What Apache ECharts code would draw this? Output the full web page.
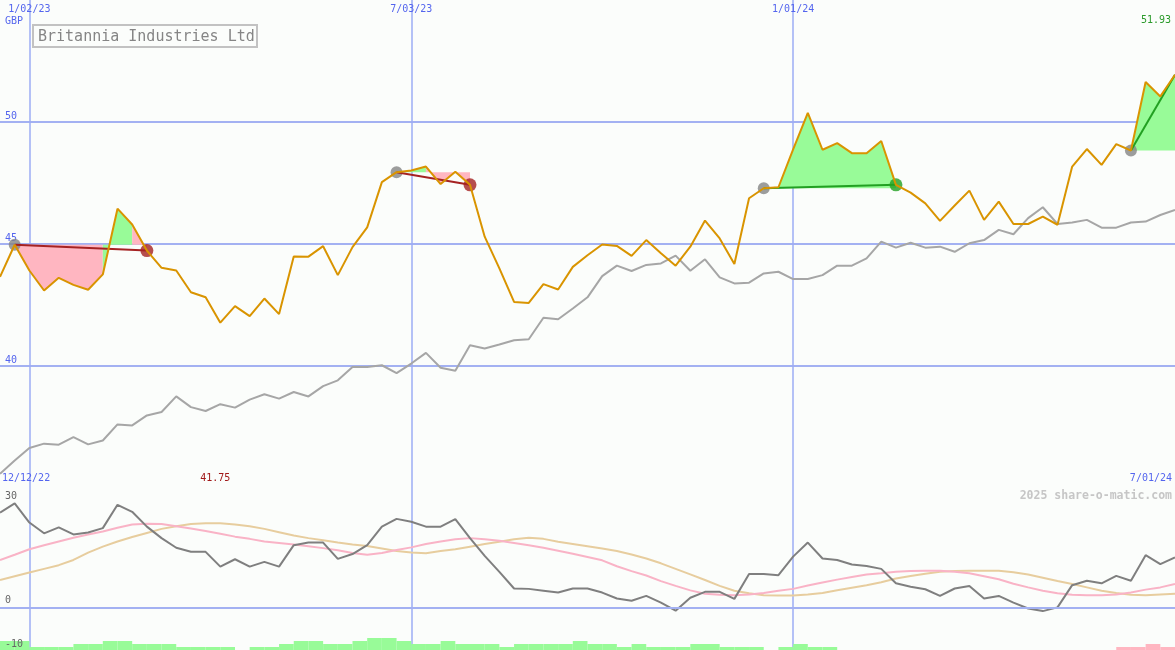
<!DOCTYPE html>
<html><head><meta charset="utf-8">
<script src="https://cdn.jsdelivr.net/npm/echarts@6/dist/echarts.min.js"></script>
<style>html,body{margin:0;padding:0;background:#fbfdfb;}#c{width:1175px;height:650px;}</style>
</head><body><div id="c"></div>
<script>
// ---- data ----
const categories = ['12/19/22','12/26/22','1/02/23','1/09/23','1/16/23','1/23/23','1/30/23','2/06/23','2/13/23','2/20/23',
'2/27/23','3/06/23','3/13/23','3/20/23','3/27/23','4/03/23','4/10/23','4/17/23','4/24/23','5/01/23',
'5/08/23','5/15/23','5/22/23','5/29/23','6/05/23','6/12/23','6/19/23','6/26/23','7/03/23','7/10/23',
'7/17/23','7/24/23','7/31/23','8/07/23','8/14/23','8/21/23','8/28/23','9/04/23','9/11/23','9/18/23',
'9/25/23','10/02/23','10/09/23','10/16/23','10/23/23','10/30/23','11/06/23','11/13/23','11/20/23','11/27/23',
'12/04/23','12/11/23','12/18/23','12/25/23','1/01/24','1/08/24','1/15/24','1/22/24','1/29/24','2/05/24',
'2/12/24','2/19/24','2/26/24','3/04/24','3/11/24','3/18/24','3/25/24','4/01/24','4/08/24','4/15/24',
'4/22/24','4/29/24','5/06/24','5/13/24','5/20/24','5/27/24','6/03/24','6/10/24','6/17/24','6/24/24','7/01/24'];
const price = [43.63,44.95,43.89,43.07,43.59,43.30,43.10,43.73,46.43,45.78,
44.71,44.00,43.89,43.00,42.79,41.75,42.43,42.02,42.74,42.10,
44.47,44.46,44.89,43.70,44.85,45.66,47.52,47.93,48.00,48.16,
47.44,47.95,47.41,45.28,43.98,42.60,42.56,43.33,43.11,44.04,
44.52,44.96,44.90,44.49,45.14,44.60,44.09,44.87,45.94,45.21,
44.16,46.86,47.27,47.31,48.87,50.36,48.85,49.12,48.71,48.71,
49.21,47.41,47.09,46.65,45.93,46.56,47.17,45.97,46.72,45.80,
45.80,46.10,45.77,48.16,48.88,48.23,49.08,48.82,51.63,51.04,51.93];
const compare = [35.54,36.09,36.60,36.78,36.74,37.05,36.75,36.91,37.57,37.53,
37.94,38.08,38.72,38.28,38.12,38.40,38.26,38.59,38.81,38.63,
38.90,38.72,39.14,39.38,39.93,39.93,40.00,39.68,40.07,40.51,
39.90,39.77,40.82,40.69,40.85,41.03,41.07,41.95,41.89,42.33,
42.79,43.66,44.09,43.87,44.12,44.18,44.50,43.88,44.35,43.61,
43.36,43.39,43.77,43.84,43.54,43.54,43.70,44.09,44.09,44.39,
45.08,44.83,45.03,44.83,44.87,44.66,45.01,45.14,45.56,45.38,
46.04,46.49,45.80,45.86,45.97,45.65,45.65,45.86,45.90,46.17,46.38];
const oscMain = [25.7,28.2,23.0,20.1,21.7,19.8,20.3,21.5,27.8,25.9,
21.9,18.8,16.2,15.1,15.1,11.1,13.1,11.1,12.4,11.1,
16.9,17.6,17.6,13.2,14.5,16.9,21.9,24.0,23.2,21.9,
21.9,23.9,18.8,14.0,9.7,5.2,5.1,4.6,4.1,5.2,
5.2,4.1,2.5,1.9,3.2,1.4,-0.8,2.7,4.3,4.3,
2.4,9.1,9.1,8.8,13.8,17.6,13.3,12.9,11.7,11.3,
10.5,6.6,5.7,5.0,3.2,5.2,5.9,2.5,3.2,1.4,
-0.2,-0.9,0.1,6.1,7.3,6.6,8.6,7.3,14.2,11.8,13.6];
const oscPink = [12.9,14.3,15.8,16.9,17.9,18.9,19.8,20.6,21.6,22.5,
22.7,22.6,22.0,21.4,20.7,20.0,19.2,18.6,17.9,17.5,
17.1,16.6,16.1,15.5,14.8,14.3,14.8,15.6,16.3,17.2,
17.9,18.5,18.8,18.5,18.1,17.5,16.9,16.2,15.4,14.6,
13.7,12.8,11.2,9.9,8.7,7.2,5.9,4.7,3.8,3.5,
3.4,3.6,4.0,4.6,5.1,6.0,6.8,7.6,8.3,9.0,
9.3,9.7,9.9,10.0,10.0,9.7,9.3,8.5,7.7,6.5,
5.5,4.6,3.9,3.5,3.4,3.4,3.6,4.1,4.9,5.5,6.4];
const oscTan = [7.5,8.5,9.5,10.5,11.5,12.9,14.9,16.5,17.9,19.1,
20.2,21.3,22.0,22.6,22.8,22.8,22.5,22.0,21.3,20.4,
19.5,18.8,18.2,17.6,17.1,16.7,16.0,15.3,14.9,14.7,
15.3,15.8,16.5,17.2,17.8,18.5,18.9,18.6,17.8,17.2,
16.6,16.0,15.3,14.4,13.3,12.0,10.5,9.0,7.5,5.9,
4.6,3.9,3.4,3.3,3.3,3.6,4.0,4.7,5.4,6.1,
6.9,7.9,8.6,9.2,9.7,9.9,10.0,10.0,10.0,9.6,
9.0,8.1,7.2,6.4,5.5,4.6,4.0,3.5,3.4,3.6,3.8];
const histogram = [3,3,1,1,1,2,2,3,3,2,
2,2,1,1,1,1,0,1,1,2,
3,3,2,2,3,4,4,3,2,2,
3,2,2,2,1,2,2,2,2,3,
2,2,1,2,1,1,1,2,2,1,
1,1,0,1,2,1,1,0,0,0,
0,0,0,0,0,0,0,0,0,0,
0,0,0,0,0,0,-1,-1,-2,-1];
const gridDates = ['1/02/23','7/03/23','1/01/24'];
const priceTickHide = [35, 55];
const oscTicks = [30, 0, -10];
const tradeEntry = [1, 27, 52, 77];
const tradeExit = [10, 32, 61, 80];
const tradeOpen = [false, false, false, true];
const tradeFill = ['PPPPPPGGP', 'GGPPP', 'GGGGGGGGG', 'GGG'];
const titleText = 'Britannia Industries Ltd';
const currency = 'GBP';
const startLabel = '12/12/22';
const endLabel = '7/01/24';
const watermark = '2025 share-o-matic.com';

// ---- style ----
const MONO = '"DejaVu Sans Mono", monospace';
const BG = '#fbfdfb';
const GRID = '#a3b1f2';
const BLUE = '#5465ee';
const ORANGE = '#d99400';
const GREEN_FILL = '#98fb98';
const PINK_FILL = '#ffb6c1';
const RED = '#a52222';
const GREEN = '#22a022';

const dateSet = new Set(gridDates);
const isGridDate = (idx, val) => dateSet.has(val);

// fills: contiguous runs of same colour -> one polygon each
const fillData = [];
tradeEntry.forEach((e, t) => {
  const base = price[e];
  const s = tradeFill[t];
  let k = 0;
  while (k < s.length) {
    let j = k;
    while (j + 1 < s.length && s[j + 1] === s[k]) j++;
    fillData.push([e + k, base, s[k] === 'G' ? 1 : 0, e + j + 1]);
    k = j + 1;
  }
});

const series = [];
series.push({
  type: 'custom', xAxisIndex: 0, yAxisIndex: 0, z: 1, silent: true,
  encode: { x: 0, y: 1 },
  data: fillData,
  renderItem: function (params, api) {
    const a = api.value(0), base = api.value(1), g = api.value(2), b = api.value(3);
    const pts = [api.coord([a, base])];
    for (let i = a; i <= b; i++) pts.push(api.coord([i, price[i]]));
    pts.push(api.coord([b, base]));
    return { type: 'polygon', shape: { points: pts }, style: { fill: g ? GREEN_FILL : PINK_FILL } };
  }
});
series.push({
  type: 'line', xAxisIndex: 0, yAxisIndex: 0, data: compare, symbol: 'none', z: 2,
  lineStyle: { color: '#a6a6a6', width: 2 }, silent: true
});
const entryPts = [], exitRed = [], exitGreen = [];
tradeEntry.forEach((e, t) => {
  const x = tradeExit[t];
  const win = price[x] >= price[e];
  series.push({
    type: 'line', xAxisIndex: 0, yAxisIndex: 0, symbol: 'none', z: 4, silent: true,
    data: [[e, price[e]], [x, price[x]]],
    lineStyle: { color: win ? GREEN : RED, width: 2 }
  });
  entryPts.push([e, price[e]]);
  if (!tradeOpen[t]) (win ? exitGreen : exitRed).push([x, price[x]]);
});
series.push({ type: 'scatter', xAxisIndex: 0, yAxisIndex: 0, data: entryPts, symbolSize: 12, z: 3, silent: true, itemStyle: { color: '#858585' } });
series.push({ type: 'scatter', xAxisIndex: 0, yAxisIndex: 0, data: exitRed, symbolSize: 13, z: 3, silent: true, itemStyle: { color: RED } });
series.push({ type: 'scatter', xAxisIndex: 0, yAxisIndex: 0, data: exitGreen, symbolSize: 13, z: 3, silent: true, itemStyle: { color: GREEN } });
series.push({
  type: 'line', xAxisIndex: 0, yAxisIndex: 0, data: price, symbol: 'none', z: 5,
  lineStyle: { color: ORANGE, width: 2 }, silent: true
});
// histogram
series.push({
  type: 'bar', xAxisIndex: 2, yAxisIndex: 2, barWidth: '100%', barGap: 0, silent: true, z: 1,
  data: histogram.map(v => ({ value: Math.abs(v), itemStyle: { color: v >= 0 ? GREEN_FILL : PINK_FILL } }))
});
// oscillators
series.push({ type: 'line', xAxisIndex: 1, yAxisIndex: 1, data: oscTan, symbol: 'none', z: 2, silent: true, lineStyle: { color: '#e7cd9e', width: 2 } });
series.push({ type: 'line', xAxisIndex: 1, yAxisIndex: 1, data: oscPink, symbol: 'none', z: 3, silent: true, lineStyle: { color: '#f9b3c6', width: 2 } });
series.push({
  type: 'line', xAxisIndex: 1, yAxisIndex: 1, data: oscMain, symbol: 'none', z: 4, silent: true,
  lineStyle: { color: '#7f7f7f', width: 2 },
  markLine: {
    silent: true, symbol: ['none', 'none'], animation: false,
    data: oscTicks.map(v => ({
      yAxis: v,
      lineStyle: { color: v === 0 ? GRID : 'rgba(0,0,0,0)', width: 2, type: 'solid' },
      label: {
        show: true, formatter: String(v), position: v === 0 ? 'insideStartTop' : 'insideStart',
        distance: v === 0 ? [5, 2] : [5, 0], color: '#666666', fontFamily: MONO, fontSize: 10
      }
    }))
  }
});

const chart = echarts.init(document.getElementById('c'), null, { renderer: 'canvas' });
chart.setOption({
  backgroundColor: BG,
  animation: false,
  grid: [
    { left: 0, right: 0, top: 0, height: 487 },
    { left: 0, right: 0, top: 487, height: 163 },
    { left: 0, right: 0, top: 620, height: 30 }
  ],
  xAxis: [
    {
      gridIndex: 0, type: 'category', data: categories, boundaryGap: false, position: 'top',
      axisLine: { show: false }, axisTick: { show: false },
      axisLabel: { inside: true, interval: isGridDate, color: BLUE, fontFamily: MONO, fontSize: 10, margin: 4 },
      splitLine: { show: true, interval: isGridDate, lineStyle: { color: '#9cacf4', width: 1.5 } }
    },
    {
      gridIndex: 1, type: 'category', data: categories, boundaryGap: false, position: 'top',
      axisLine: { show: true, lineStyle: { color: '#7888ec', width: 2 } }, axisTick: { show: false },
      axisLabel: { show: false },
      splitLine: { show: true, interval: isGridDate, lineStyle: { color: '#9cacf4', width: 1.5 } }
    },
    { gridIndex: 2, type: 'category', data: categories.slice(0, histogram.length), boundaryGap: true, show: false }
  ],
  yAxis: [
    {
      gridIndex: 0, type: 'value', min: 35, max: 55, interval: 5,
      axisLine: { show: false }, axisTick: { show: false },
      axisLabel: {
        inside: true, verticalAlign: 'bottom', margin: 5, color: BLUE, fontFamily: MONO, fontSize: 10,
        formatter: v => priceTickHide.includes(v) ? '' : String(v)
      },
      splitLine: { show: true, lineStyle: { color: ['rgba(0,0,0,0)', GRID, GRID, GRID, 'rgba(0,0,0,0)'], width: 2 } }
    },
    { gridIndex: 1, type: 'value', min: -11.4, max: 32.6, show: false, splitLine: { show: false } },
    { gridIndex: 2, type: 'value', min: 0, max: 10, show: false, splitLine: { show: false } }
  ],
  series: series
});

// text overlays
let minIdx = 0;
price.forEach((v, i) => { if (v < price[minIdx]) minIdx = i; });
const minX = chart.convertToPixel({ xAxisIndex: 0 }, minIdx);
const lastPrice = price[price.length - 1];
chart.setOption({
  graphic: [
    { type: 'rect', shape: { x: 33, y: 25, width: 224, height: 22 }, style: { fill: BG, stroke: '#c2c2c2', lineWidth: 2 }, z: 100 },
    { type: 'text', x: 38, y: 37, z: 101, style: { text: titleText, fill: '#858585', font: '15px ' + MONO, verticalAlign: 'middle' } },
    { type: 'text', x: 5, y: 16, z: 101, style: { text: currency, fill: BLUE, font: '10px ' + MONO, verticalAlign: 'top' } },
    { type: 'text', x: 1171, y: 15, z: 101, style: { text: lastPrice.toFixed(2), fill: '#2a9a2a', font: '10px ' + MONO, align: 'right', verticalAlign: 'top' } },
    { type: 'text', x: 2, y: 473, z: 101, style: { text: startLabel, fill: BLUE, font: '10px ' + MONO, verticalAlign: 'top' } },
    { type: 'text', x: 1172, y: 473, z: 101, style: { text: endLabel, fill: BLUE, font: '10px ' + MONO, align: 'right', verticalAlign: 'top' } },
    { type: 'text', x: minX - 5, y: 473, z: 101, style: { text: price[minIdx].toFixed(2), fill: '#a01818', font: '10px ' + MONO, align: 'center', verticalAlign: 'top' } },
    { type: 'text', x: 1172, y: 490, z: 101, style: { text: watermark, fill: '#c6c6c6', font: 'bold 11.5px ' + MONO, align: 'right', verticalAlign: 'top' } }
  ]
});
</script></body></html>
